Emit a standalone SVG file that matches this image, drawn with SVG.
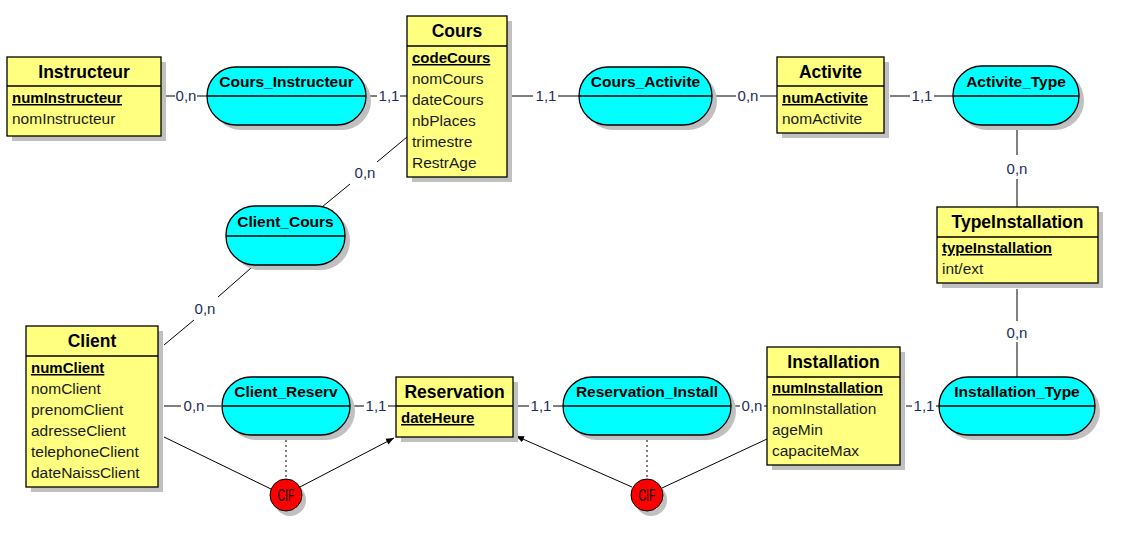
<svg xmlns="http://www.w3.org/2000/svg" width="1123" height="555" viewBox="0 0 1123 555">
<defs>
<marker id="arr" viewBox="0 0 10 10" refX="10" refY="5" markerWidth="8" markerHeight="8" markerUnits="userSpaceOnUse" orient="auto">
<path d="M0,1 L10,5 L0,9 Z" fill="#000"/>
</marker>
</defs>
<style>
.shadow{fill:#c0c0c0;stroke:none}
.ent{fill:#ffff80;stroke:#000;stroke-width:1.3}
.asso{fill:#00ffff;stroke:#000;stroke-width:1.3}
.cif{fill:#ff0000;stroke:#000;stroke-width:1}
.sep{stroke:#000;stroke-width:1.3}
.title{font-family:"Liberation Sans",Arial,sans-serif;font-weight:bold;font-size:17.5px;text-anchor:middle;fill:#000}
.aname{font-family:"Liberation Sans",Arial,sans-serif;font-weight:bold;font-size:15.5px;text-anchor:middle;fill:#000}
.key{font-family:"Liberation Sans",Arial,sans-serif;font-weight:bold;font-size:15px;fill:#000;text-decoration:underline}
.att{font-family:"Liberation Sans",Arial,sans-serif;font-size:15.5px;fill:#1a1a1a}
.card{font-family:"Liberation Sans",Arial,sans-serif;font-size:15px;fill:#1c2c5c;text-anchor:middle}
.ciftxt{font-family:"Liberation Sans",Arial,sans-serif;font-size:16px;fill:#000;text-anchor:middle}
.ln{stroke:#000;stroke-width:1;fill:none}
.dot{stroke:#000;stroke-width:1;stroke-dasharray:2,3;fill:none}
</style>
<rect width="1123" height="555" fill="#fff"/>

<g id="connectors">
<line class="ln" x1="164" y1="96" x2="175" y2="96"/><text class="card" x="186" y="101">0,n</text><line class="ln" x1="197" y1="96" x2="207" y2="96"/>
<line class="ln" x1="366" y1="96" x2="377" y2="96"/><text class="card" x="389" y="101">1,1</text><line class="ln" x1="400" y1="96" x2="407" y2="96"/>
<line class="ln" x1="512" y1="96" x2="533" y2="96"/><text class="card" x="546" y="101">1,1</text><line class="ln" x1="558" y1="96" x2="579" y2="96"/>
<line class="ln" x1="716" y1="96" x2="736" y2="96"/><text class="card" x="748" y="101">0,n</text><line class="ln" x1="760" y1="96" x2="777" y2="96"/>
<line class="ln" x1="890" y1="96" x2="910" y2="96"/><text class="card" x="922" y="101">1,1</text><line class="ln" x1="934" y1="96" x2="953" y2="96"/>
<line class="ln" x1="1017" y1="130" x2="1017" y2="155"/><text class="card" x="1017" y="174">0,n</text><line class="ln" x1="1017" y1="179" x2="1017" y2="207"/>
<line class="ln" x1="1017" y1="289" x2="1017" y2="321"/><text class="card" x="1017" y="338">0,n</text><line class="ln" x1="1017" y1="342" x2="1017" y2="377"/>
<line class="ln" x1="322" y1="207" x2="350" y2="184"/><text class="card" x="365" y="178">0,n</text><line class="ln" x1="377" y1="162" x2="407" y2="137"/>
<line class="ln" x1="251" y1="268" x2="218" y2="297"/><text class="card" x="205" y="314">0,n</text><line class="ln" x1="194" y1="320" x2="164" y2="345"/>
<line class="ln" x1="164" y1="406" x2="181" y2="406"/><text class="card" x="194" y="411">0,n</text><line class="ln" x1="207" y1="406" x2="221" y2="406"/>
<line class="ln" x1="352" y1="406" x2="364" y2="406"/><text class="card" x="376" y="411">1,1</text><line class="ln" x1="388" y1="406" x2="396" y2="406"/>
<line class="ln" x1="518" y1="406" x2="529" y2="406"/><text class="card" x="541" y="411">1,1</text><line class="ln" x1="553" y1="406" x2="563" y2="406"/>
<line class="ln" x1="733" y1="406" x2="740" y2="406"/><text class="card" x="752" y="411">0,n</text><line class="ln" x1="764" y1="406" x2="767" y2="406"/>
<line class="ln" x1="906" y1="406" x2="912" y2="406"/><text class="card" x="924" y="411">1,1</text><line class="ln" x1="936" y1="406" x2="939" y2="406"/>
<line class="ln" x1="164" y1="437" x2="271" y2="489"/>
<line class="dot" x1="286" y1="440" x2="286" y2="479"/>
<line class="ln" x1="300" y1="487" x2="394" y2="438" marker-end="url(#arr)"/>
<line class="ln" x1="662" y1="488" x2="767" y2="439"/>
<line class="dot" x1="647" y1="440" x2="647" y2="479"/>
<line class="ln" x1="632" y1="487" x2="516" y2="436" marker-end="url(#arr)"/>
</g>

<g id="Instructeur">
<rect class="shadow" x="12" y="62" width="154" height="79"/>
<rect class="ent" x="7" y="57" width="154" height="79"/>
<line class="sep" x1="7" y1="86" x2="161" y2="86"/>
<text class="title" x="84" y="78">Instructeur</text>
<text class="key" x="12" y="103">numInstructeur</text>
<text class="att" x="12" y="124">nomInstructeur</text>
</g>

<g id="Cours_Instructeur">
<rect class="shadow" x="212" y="72" width="159" height="58" rx="29" ry="29"/>
<rect class="asso" x="207" y="67" width="159" height="58" rx="29" ry="29"/>
<line class="sep" x1="207" y1="96" x2="366" y2="96"/>
<text class="aname" x="286.5" y="87">Cours_Instructeur</text>
</g>

<g id="Cours">
<rect class="shadow" x="412" y="21" width="100" height="161"/>
<rect class="ent" x="407" y="16" width="100" height="161"/>
<line class="sep" x1="407" y1="46" x2="507" y2="46"/>
<text class="title" x="457" y="37">Cours</text>
<text class="key" x="412" y="63">codeCours</text>
<text class="att" x="412" y="84">nomCours</text>
<text class="att" x="412" y="105">dateCours</text>
<text class="att" x="412" y="126">nbPlaces</text>
<text class="att" x="412" y="147">trimestre</text>
<text class="att" x="412" y="168">RestrAge</text>
</g>

<g id="Cours_Activite">
<rect class="shadow" x="584" y="72" width="133" height="58" rx="29" ry="29"/>
<rect class="asso" x="579" y="67" width="133" height="58" rx="29" ry="29"/>
<line class="sep" x1="579" y1="96" x2="712" y2="96"/>
<text class="aname" x="645.5" y="87">Cours_Activite</text>
</g>

<g id="Activite">
<rect class="shadow" x="782" y="62" width="107" height="76"/>
<rect class="ent" x="777" y="57" width="107" height="76"/>
<line class="sep" x1="777" y1="86" x2="884" y2="86"/>
<text class="title" x="830.5" y="78">Activite</text>
<text class="key" x="782" y="103">numActivite</text>
<text class="att" x="782" y="124">nomActivite</text>
</g>

<g id="Activite_Type">
<rect class="shadow" x="958" y="71" width="126" height="59" rx="29" ry="29"/>
<rect class="asso" x="953" y="66" width="126" height="59" rx="29" ry="29"/>
<line class="sep" x1="953" y1="96" x2="1079" y2="96"/>
<text class="aname" x="1016" y="87">Activite_Type</text>
</g>

<g id="TypeInstallation">
<rect class="shadow" x="942" y="212" width="161" height="76"/>
<rect class="ent" x="937" y="207" width="161" height="76"/>
<line class="sep" x1="937" y1="237" x2="1098" y2="237"/>
<text class="title" x="1017.5" y="228">TypeInstallation</text>
<text class="key" x="942" y="253">typeInstallation</text>
<text class="att" x="942" y="274">int/ext</text>
</g>

<g id="Client_Cours">
<rect class="shadow" x="231" y="211" width="119" height="59" rx="29" ry="29"/>
<rect class="asso" x="226" y="206" width="119" height="59" rx="29" ry="29"/>
<line class="sep" x1="226" y1="236" x2="345" y2="236"/>
<text class="aname" x="285.5" y="227">Client_Cours</text>
</g>

<g id="Client">
<rect class="shadow" x="31" y="331" width="132" height="161"/>
<rect class="ent" x="26" y="326" width="132" height="161"/>
<line class="sep" x1="26" y1="356" x2="158" y2="356"/>
<text class="title" x="92" y="347">Client</text>
<text class="key" x="31" y="373">numClient</text>
<text class="att" x="31" y="394">nomClient</text>
<text class="att" x="31" y="415">prenomClient</text>
<text class="att" x="31" y="436">adresseClient</text>
<text class="att" x="31" y="457">telephoneClient</text>
<text class="att" x="31" y="478">dateNaissClient</text>
</g>

<g id="Client_Reserv">
<rect class="shadow" x="227" y="382" width="128" height="58" rx="29" ry="29"/>
<rect class="asso" x="222" y="377" width="128" height="58" rx="29" ry="29"/>
<line class="sep" x1="222" y1="406" x2="350" y2="406"/>
<text class="aname" x="286" y="397">Client_Reserv</text>
</g>

<g id="Reservation">
<rect class="shadow" x="401" y="382" width="117" height="60"/>
<rect class="ent" x="396" y="377" width="117" height="60"/>
<line class="sep" x1="396" y1="406" x2="513" y2="406"/>
<text class="title" x="454.5" y="398">Reservation</text>
<text class="key" x="401" y="423">dateHeure</text>
</g>

<g id="Reservation_Install">
<rect class="shadow" x="568" y="382" width="168" height="58" rx="29" ry="29"/>
<rect class="asso" x="563" y="377" width="168" height="58" rx="29" ry="29"/>
<line class="sep" x1="563" y1="406" x2="731" y2="406"/>
<text class="aname" x="647" y="397">Reservation_Install</text>
</g>

<g id="Installation">
<rect class="shadow" x="772" y="352" width="133" height="118"/>
<rect class="ent" x="767" y="347" width="133" height="118"/>
<line class="sep" x1="767" y1="377" x2="900" y2="377"/>
<text class="title" x="833.5" y="368">Installation</text>
<text class="key" x="772" y="393">numInstallation</text>
<text class="att" x="772" y="414">nomInstallation</text>
<text class="att" x="772" y="435">ageMin</text>
<text class="att" x="772" y="456">capaciteMax</text>
</g>

<g id="Installation_Type">
<rect class="shadow" x="944" y="382" width="156" height="58" rx="29" ry="29"/>
<rect class="asso" x="939" y="377" width="156" height="58" rx="29" ry="29"/>
<line class="sep" x1="939" y1="406" x2="1095" y2="406"/>
<text class="aname" x="1017" y="397">Installation_Type</text>
</g>

<g id="CIF1">
<circle class="shadow" cx="290" cy="500" r="16"/>
<circle class="cif" cx="286" cy="495" r="16"/>
<text class="ciftxt" x="286" y="501" textLength="17" lengthAdjust="spacingAndGlyphs">CIF</text>
</g>

<g id="CIF2">
<circle class="shadow" cx="651" cy="500" r="16"/>
<circle class="cif" cx="647" cy="495" r="16"/>
<text class="ciftxt" x="647" y="501" textLength="17" lengthAdjust="spacingAndGlyphs">CIF</text>
</g>
</svg>
